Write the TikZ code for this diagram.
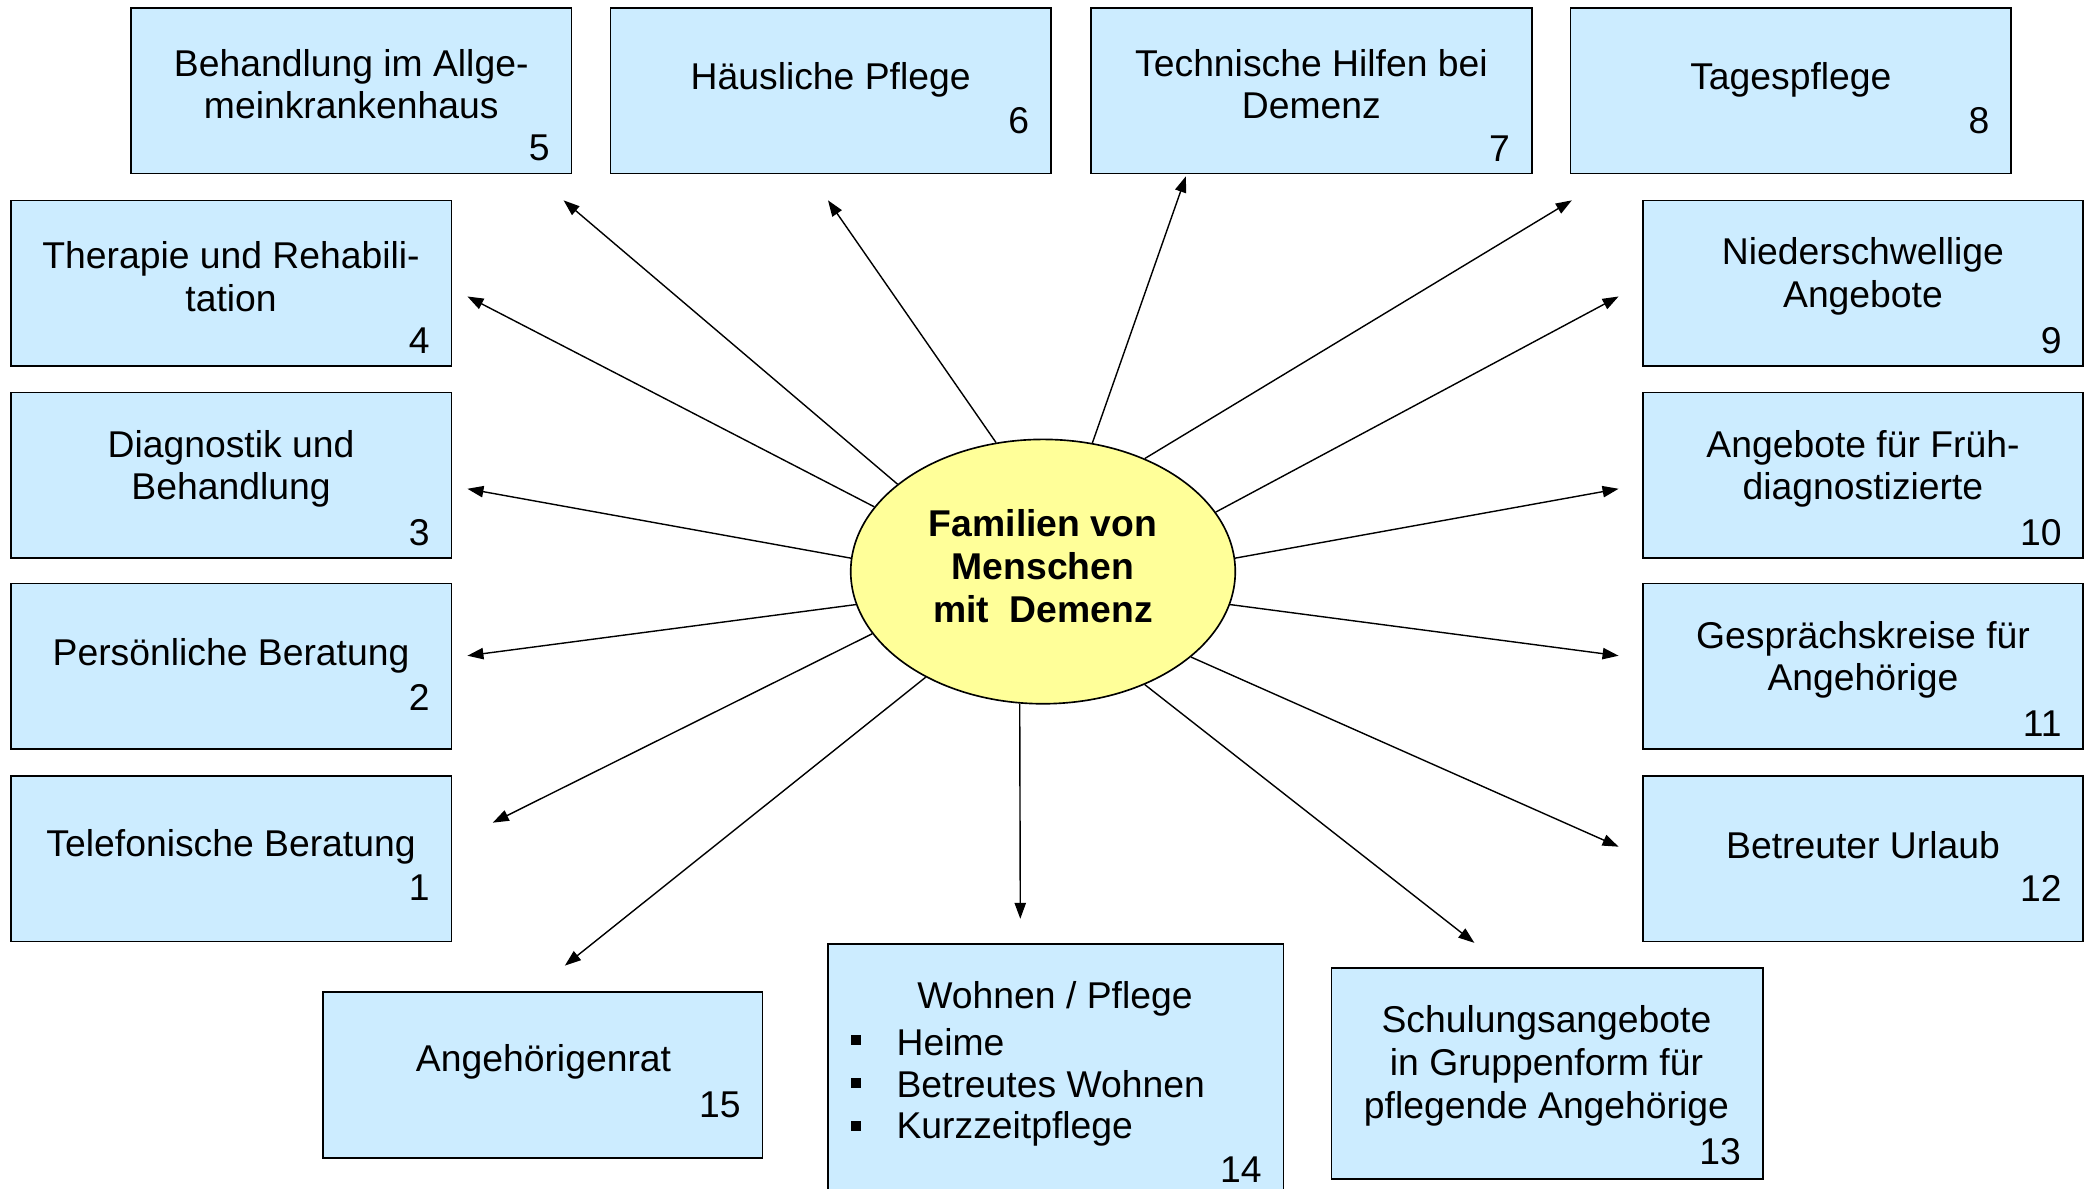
\documentclass[tikz,border=0pt]{standalone}
\usepackage{fontspec}
\setmainfont{Liberation Sans}
\usetikzlibrary{arrows.meta,shapes.geometric}
\definecolor{boxblue}{HTML}{CCECFF}
\definecolor{ellyellow}{HTML}{FFFF99}
\begin{document}
\begin{tikzpicture}[x=0.02cm,y=-0.02cm,
  box/.style={draw=black,fill=boxblue,line width=0.7pt,inner sep=0pt,outer sep=0pt,minimum width=6.6cm,minimum height=2.48cm},
  lbl/.style={inner sep=0pt,align=center,font=\fontsize{15.9}{18.2}\selectfont},
  num/.style={inner sep=0pt,anchor=east,font=\fontsize{15.9}{18.2}\selectfont},
  arr/.style={line width=0.6pt,-{Triangle[length=0.24cm,width=0.17cm]}},
  bul/.style={fill=black,inner sep=0pt,minimum size=0.15cm}]
\useasboundingbox (0,0) rectangle (1568,890);
\clip (0,0) rectangle (1568,890);

% top row
\node[box] (b5) at (263,68) {};
\node[box] (b6) at (622,68) {};
\node[box] (b7) at (982,68) {};
\node[box] (b8) at (1341,68) {};
% left column
\node[box] (b4) at (173,212) {};
\node[box] (b3) at (173,356) {};
\node[box] (b2) at (173,499) {};
\node[box] (b1) at (173,643) {};
% right column
\node[box] (b9) at (1395,212) {};
\node[box] (b10) at (1395,356) {};
\node[box] (b11) at (1395,499) {};
\node[box] (b12) at (1395,643) {};
% bottom
\node[box,minimum width=6.58cm] (b15) at (406.5,805) {};
\node[box,minimum width=6.82cm,minimum height=3.76cm] (b14) at (790.5,801) {};
\node[box,minimum width=6.46cm,minimum height=3.16cm] (b13) at (1158.5,804) {};

% texts
\node[lbl] (t5) at (263,63) {Behandlung im Allge-\\meinkrankenhaus};
\node[num] (n5) at (412,111) {5};
\node[lbl] (t6) at (622,60) {Häusliche Pflege};
\node[num] (n6) at (771,90) {6};
\node[lbl] (t7) at (982,63) {Technische Hilfen bei\\Demenz};
\node[num] (n7) at (1131,111) {7};
\node[lbl] (t8) at (1341,60) {Tagespflege};
\node[num] (n8) at (1490,90) {8};

\node[lbl] (t4) at (173,207) {Therapie und Rehabili-\\tation};
\node[num] (n4) at (322,255) {4};
\node[lbl] (t3) at (173,351) {Diagnostik und\\Behandlung};
\node[num] (n3) at (322,399) {3};
\node[lbl] (t2) at (173,491) {Persönliche Beratung};
\node[num] (n2) at (322,522) {2};
\node[lbl] (t1) at (173,634) {Telefonische Beratung};
\node[num] (n1) at (322,665) {1};

\node[lbl] (t9) at (1395,207) {Niederschwellige\\Angebote};
\node[num] (n9) at (1544,255) {9};
\node[lbl] (t10) at (1395,351) {Angebote für Früh-\\diagnostizierte};
\node[num] (n10) at (1544,399) {10};
\node[lbl] (t11) at (1395,494) {Gesprächskreise für\\Angehörige};
\node[num] (n11) at (1544,542) {11};
\node[lbl] (t12) at (1395,633) {Betreuter Urlaub};
\node[num] (n12) at (1544,665) {12};

\node[lbl] (t15) at (407,795) {Angehörigenrat};
\node[num] (n15) at (555,827) {15};

\node[lbl] (t14) at (790,748) {Wohnen / Pflege};
\node[bul] (q1) at (641,779) {};
\node[bul] (q2) at (641,811) {};
\node[bul] (q3) at (641,843) {};
\node[lbl,anchor=west] (i1) at (671,780) {Heime};
\node[lbl,anchor=west] (i2) at (671,812) {Betreutes Wohnen};
\node[lbl,anchor=west] (i3) at (671,845) {Kurzzeitpflege};
\node[num] (n14) at (945,876) {14};

\node[lbl] (t13) at (1158,798) {Schulungsangebote\\in Gruppenform für\\pflegende Angehörige};
\node[num] (n13) at (1304,862) {13};

% centre
\node[ellipse,draw=black,fill=ellyellow,line width=0.7pt,inner sep=0pt,minimum width=5.76cm,minimum height=3.96cm] (c) at (781,428) {};
\node[lbl,font=\fontsize{15.9}{18.4}\selectfont\bfseries] (ct) at (781,424) {Familien von\\Menschen\\mit~~Demenz};

% arrow tips
\coordinate (a5) at (422,150);
\coordinate (a6) at (620,150);
\coordinate (a7) at (888,132);
\coordinate (a8) at (1177,150);
\coordinate (a4) at (350,222);
\coordinate (a9) at (1212,222);
\coordinate (a3) at (350,366);
\coordinate (a10) at (1212,366);
\coordinate (a2) at (350,491);
\coordinate (a11) at (1212,491);
\coordinate (a1) at (369,616);
\coordinate (a12) at (1212,634);
\coordinate (a15) at (423,723);
\coordinate (a14) at (764,688);
\coordinate (a13) at (1104,706);

\draw[arr] (c.149.3) -- (a5);
\draw[arr] (c.110) -- (a6);
\draw[arr] (c.69.5) -- (a7);
\draw[arr] (c.48.4) -- (a8);
\draw[arr] (c.159.5) -- (a4);
\draw[arr] (c.19.7) -- (a9);
\draw[arr] (c.176) -- (a3);
\draw[arr] (c.4) -- (a10);
\draw[arr] (c.190.6) -- (a2);
\draw[arr] (c.-10.6) -- (a11);
\draw[arr] (c.200) -- (a1);
\draw[arr] (c.-30) -- (a12);
\draw[arr] (c.222.3) -- (a15);
\draw[arr] (c.260.3) -- (a14);
\draw[arr] (c.-48.7) -- (a13);
\end{tikzpicture}
\end{document}
